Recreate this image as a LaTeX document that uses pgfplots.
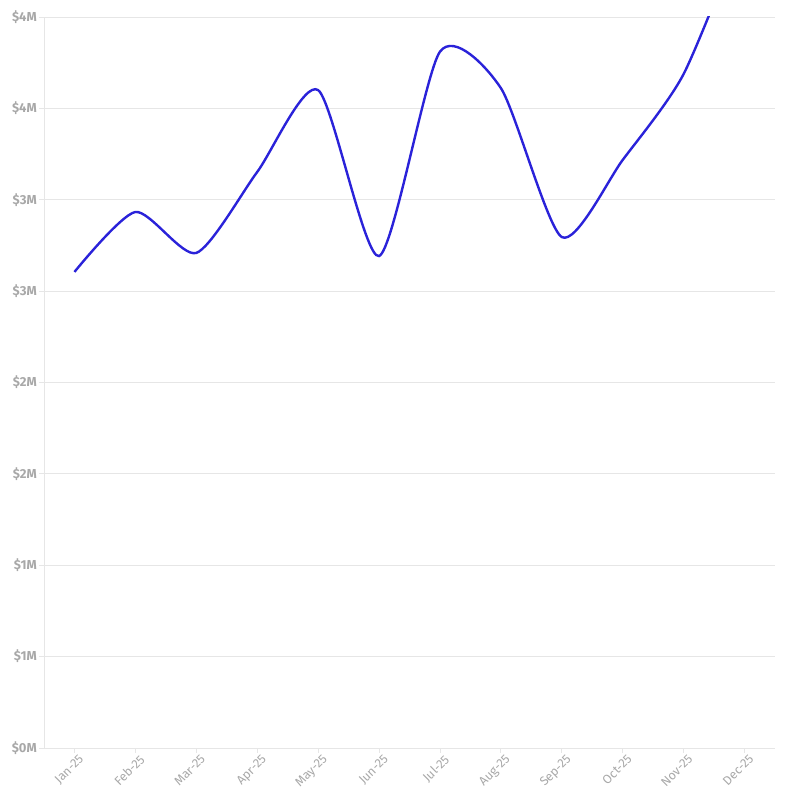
\documentclass[border=0pt]{standalone}
\usepackage{pgfplots}
\pgfplotsset{compat=1.18}
\usepackage{fontspec}
\setmainfont{Fira Sans}
\definecolor{lineblue}{HTML}{2A22D9}
\definecolor{gridgray}{HTML}{E6E6E6}
\definecolor{labgray}{HTML}{A8A8A8}
\begin{document}
\begin{tikzpicture}
\begin{axis}[
  scale only axis,
  width=731pt, height=731pt,
  xmin=-0.5, xmax=11.5,
  ymin=0, ymax=4,
  xtick={0,1,2,3,4,5,6,7,8,9,10,11},
  xticklabels={Jan-25,Feb-25,Mar-25,Apr-25,May-25,Jun-25,Jul-25,Aug-25,Sep-25,Oct-25,Nov-25,Dec-25},
  ytick={0,0.5,1,1.5,2,2.5,3,3.5,4},
  yticklabels={\$0M,\$1M,\$1M,\$2M,\$2M,\$3M,\$3M,\$4M,\$4M},
  x tick label style={rotate=45, anchor=north east, font=\fontsize{12.5}{14}\selectfont, text=labgray, inner sep=1pt, xshift=3pt, yshift=-2pt},
  y tick label style={font=\bfseries\fontsize{13}{15}\selectfont, text=labgray, inner sep=2pt},
  axis x line*=bottom, axis y line*=left,
  axis line style={draw=gridgray, line width=0.8pt, -},
  tick style={draw=gridgray, line width=0.8pt},
  tick align=outside,
  major tick length=5pt,
  ymajorgrids,
  grid style={draw=gridgray, line width=0.8pt},
  clip=true,
]
\addplot[lineblue, line width=2.4pt, smooth, tension=0.42] coordinates {
(0,2.605) (1,2.933) (2,2.709) (3,3.152) (4,3.600) (5,2.692)
(6,3.810) (7,3.611) (8,2.796) (9,3.218) (10,3.688) (11,4.50)
};
\end{axis}
\path ([shift={(-44pt,-58pt)}]current axis.south west) rectangle ([shift={(19pt,17pt)}]current axis.north east);
\end{tikzpicture}
\end{document}
